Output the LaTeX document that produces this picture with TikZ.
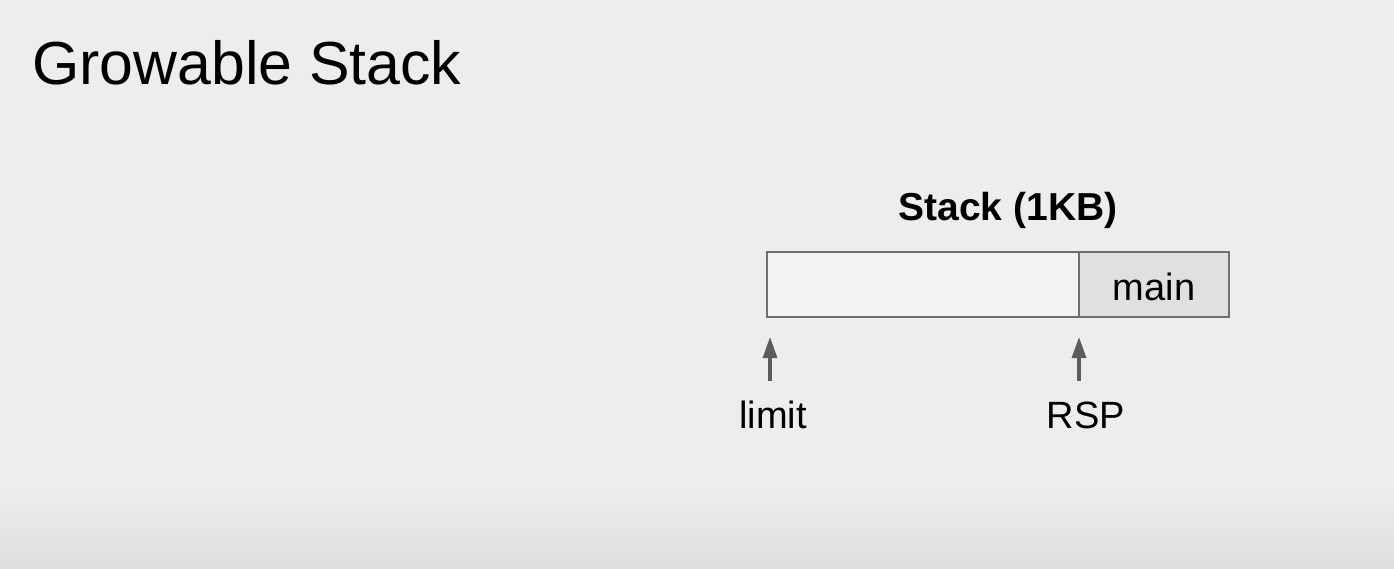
\documentclass[tikz,border=0pt]{standalone}
\usepackage{fontspec}
\setmainfont{Liberation Sans}
\usetikzlibrary{positioning,arrows.meta}

\definecolor{slidebg}{HTML}{EDEDED}
\definecolor{slidefoot}{HTML}{DEDEDE}
\definecolor{boxline}{HTML}{6E6E6E}
\definecolor{freefill}{HTML}{F3F3F3}
\definecolor{framefill}{HTML}{E0E0E0}
\definecolor{ptrgray}{HTML}{5C5C5C}

\tikzset{
  cell/.style={draw=boxline,line width=2pt,minimum height=65pt,inner sep=0pt,outer sep=0pt},
  ptr/.style={draw=ptrgray,line width=3.2pt,-{Triangle[width=14pt,length=21pt]}},
  lbl/.style={font=\fontsize{38}{40}\selectfont,inner sep=0pt,anchor=base}
}

\begin{document}
\begin{tikzpicture}[x=1pt,y=-1pt]
\useasboundingbox (0,0) rectangle (1394,568);
\fill[slidebg] (0,0) rectangle (1394,568);
\shade[top color=slidebg,bottom color=slidefoot] (0,492) rectangle (1394,568);
% title
\node (title) [anchor=base west,inner sep=0pt,font=\fontsize{60.8}{64}\selectfont] at (32,84) {Growable Stack};
% stack
\node (free) [cell,fill=freefill,minimum width=312pt,anchor=north west] at (767,252) {};
\node (main) [cell,fill=framefill,minimum width=150pt,right=0pt of free] {};
\node (mainlbl) [lbl] at ([yshift=-16pt]main.base) {main};
\node (head) [lbl,font=\bfseries\fontsize{39}{41}\selectfont] at (1008,220) {Stack (1KB)};
% pointers
\node (limit) [lbl] at (773,428) {limit};
\node (rsp) [lbl] at (1086,428) {RSP};
\coordinate (limtail) at ([shift={(3,64)}]free.south west);
\coordinate (limtip) at ([shift={(3,20)}]free.south west);
\coordinate (rsptail) at ([shift={(0,64)}]free.south east);
\coordinate (rsptip) at ([shift={(0,20)}]free.south east);
\draw[ptr] (limtail) -- (limtip);
\draw[ptr] (rsptail) -- (rsptip);
\end{tikzpicture}
\end{document}
